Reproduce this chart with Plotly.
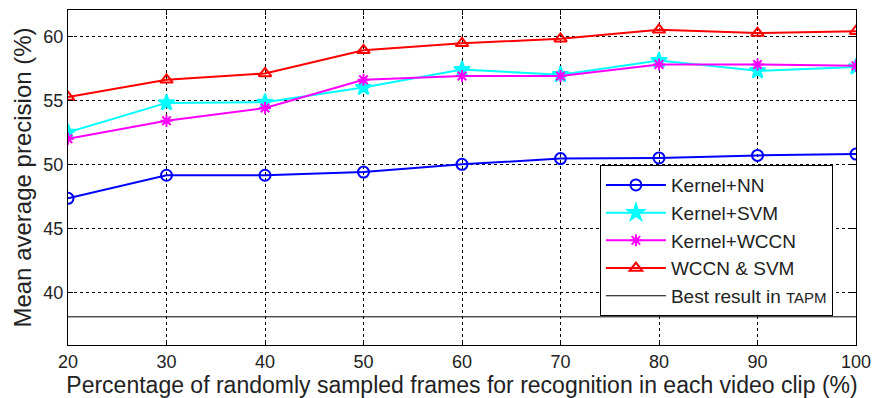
import plotly.graph_objects as go

x_vals = [20, 30, 40, 50, 60, 70, 80, 90, 100]
kernel_nn = [47.35, 49.15, 49.15, 49.4, 50.0, 50.45, 50.5, 50.7, 50.8]
kernel_svm = [52.5, 54.8, 54.85, 56.0, 57.4, 57.0, 58.1, 57.3, 57.6]
kernel_wccn = [52.0, 53.4, 54.4, 56.6, 56.9, 56.9, 57.8, 57.8, 57.7]
wccn_svm = [55.25, 56.6, 57.1, 58.9, 59.45, 59.8, 60.5, 60.25, 60.4]
best_tapm = 38.1
x_ticks = [20, 30, 40, 50, 60, 70, 80, 90, 100]
y_ticks = [40, 45, 50, 55, 60]

fig = go.Figure()
series = [
    ("Kernel+NN", kernel_nn, "#0000ff", "circle-open", 11),
    ("Kernel+SVM", kernel_svm, "#00ffff", "star", 12),
    ("Kernel+WCCN", kernel_wccn, "#ff00ff", "asterisk-open", 10),
    ("WCCN &amp; SVM", wccn_svm, "#ff0000", "triangle-up-open", 11),
]
for name, ys, col, sym, sz in series:
    fig.add_trace(go.Scatter(
        x=x_vals, y=ys, name=name, mode="lines+markers",
        line=dict(color=col, width=2),
        marker=dict(symbol=sym, size=sz, color=col, line=dict(color=col, width=2)),
    ))
fig.add_trace(go.Scatter(
    x=[x_vals[0], x_vals[-1]], y=[best_tapm, best_tapm],
    name="Best result in <span style='font-size:15px'>TAPM</span>", mode="lines",
    line=dict(color="black", width=1),
))

axis_common = dict(
    showline=True, linecolor="black", linewidth=1, mirror="ticks",
    ticks="inside", ticklen=5, tickcolor="black",
    showgrid=True, gridcolor="black", gridwidth=1, griddash="dot",
    zeroline=False, tickfont=dict(size=18, color="#222"), automargin=False,
    ticklabeloverflow="allow",
)
fig.update_xaxes(range=[20, 100], tickvals=x_ticks,
                 title=dict(text="Percentage of randomly sampled frames for recognition in each video clip (%)",
                            font=dict(size=23, color="#222"), standoff=2),
                 **axis_common)
fig.update_yaxes(range=[35.9, 62.05], tickvals=y_ticks,
                 title=dict(text="Mean average precision (%)", font=dict(size=24, color="#222"), standoff=4),
                 **axis_common)

fig.update_layout(
    width=875, height=398,
    margin=dict(l=68, r=19, t=10, b=53),
    plot_bgcolor="white", paper_bgcolor="white",
    font=dict(family="Liberation Sans, Arial, sans-serif", color="#222"),
    showlegend=True,
    legend=dict(x=0.675, y=0.537, xanchor="left", yanchor="top",
                bgcolor="white", bordercolor="black", borderwidth=1,
                font=dict(size=19, color="#222"), tracegroupgap=0,
                itemwidth=60),
)

fig.write_html("out.html", config={"displayModeBar": False},
               post_script="document.body.style.margin='0';")
